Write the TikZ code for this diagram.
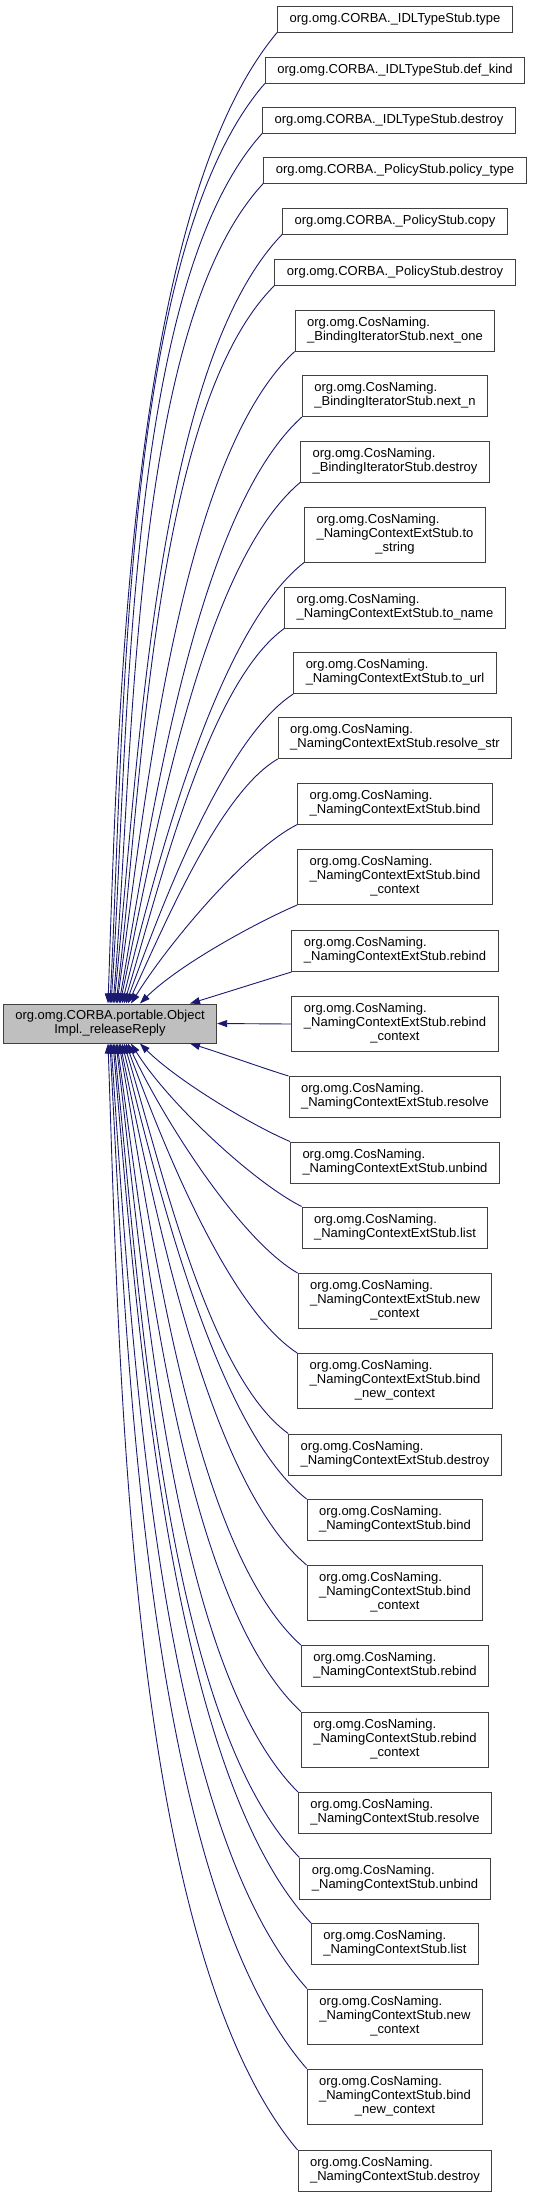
\documentclass[tikz,border=0pt]{standalone}
\usepackage{fontspec}
\setmainfont{Liberation Sans}
\usetikzlibrary{arrows.meta}

\definecolor{edgeblue}{HTML}{191970}
\definecolor{focusgray}{HTML}{BFBFBF}
\newcommand{\callfont}{\fontsize{6.5}{7}\selectfont}
\newcommand{\calltwo}[2]{\begin{tabular}{@{}l@{}}#1\\#2\end{tabular}}
\newcommand{\callthree}[3]{\begin{tabular}{@{}l@{}}#1\\#2\\\multicolumn{1}{@{}c@{}}{#3}\end{tabular}}

\begin{document}
\begin{tikzpicture}[x=0.5pt, y=0.5pt,
  fnbox/.style={draw=black!75, line width=0.5pt, fill=white, inner xsep=6pt, inner ysep=0pt, font=\callfont},
  onebox/.style={fnbox, minimum height=13pt},
  twobox/.style={fnbox, minimum height=20.5pt},
  threebox/.style={fnbox, minimum height=27.5pt},
  focus/.style={fnbox, fill=focusgray, minimum height=19.5pt, align=center},
  call/.style={-{Triangle[length=5pt,width=3.5pt]}, draw=edgeblue, line width=0.45pt, out looseness=0.6, in looseness=0.75}]
  \useasboundingbox (0,0) rectangle (532,-2197);

  % Left: the called function
  \node[focus] (release) at (110,-1023.5) {org.omg.CORBA.portable.Object\\Impl.\_releaseReply};

  % Right: the callers, CORBA stubs
  \node[onebox] (idlType) at (395,-19) {org.omg.CORBA.\_IDLTypeStub.type};
  \node[onebox] (idlDefKind) at (395,-70) {org.omg.CORBA.\_IDLTypeStub.def\_kind};
  \node[onebox] (idlDestroy) at (389,-120) {org.omg.CORBA.\_IDLTypeStub.destroy};
  \node[onebox] (polType) at (395,-170) {org.omg.CORBA.\_PolicyStub.policy\_type};
  \node[onebox] (polCopy) at (395,-221) {org.omg.CORBA.\_PolicyStub.copy};
  \node[onebox] (polDestroy) at (395,-272) {org.omg.CORBA.\_PolicyStub.destroy};

  % Right: CosNaming binding iterator
  \node[twobox] (biNextOne) at (395,-330.5) {\calltwo{org.omg.CosNaming.}{\_BindingIteratorStub.next\_one}};
  \node[twobox] (biNextN) at (395,-396) {\calltwo{org.omg.CosNaming.}{\_BindingIteratorStub.next\_n}};
  \node[twobox] (biDestroy) at (395,-461.5) {\calltwo{org.omg.CosNaming.}{\_BindingIteratorStub.destroy}};

  % Right: CosNaming naming context ext
  \node[threebox] (extToString) at (395,-534.5) {\callthree{org.omg.CosNaming.}{\_NamingContextExtStub.to}{\_string}};
  \node[twobox] (extToName) at (395,-607.5) {\calltwo{org.omg.CosNaming.}{\_NamingContextExtStub.to\_name}};
  \node[twobox] (extToUrl) at (395,-673) {\calltwo{org.omg.CosNaming.}{\_NamingContextExtStub.to\_url}};
  \node[twobox] (extResolveStr) at (395,-738) {\calltwo{org.omg.CosNaming.}{\_NamingContextExtStub.resolve\_str}};
  \node[twobox] (extBind) at (395,-803.5) {\calltwo{org.omg.CosNaming.}{\_NamingContextExtStub.bind}};
  \node[threebox] (extBindCtx) at (395,-877) {\callthree{org.omg.CosNaming.}{\_NamingContextExtStub.bind}{\_context}};
  \node[twobox] (extRebind) at (395,-951) {\calltwo{org.omg.CosNaming.}{\_NamingContextExtStub.rebind}};
  \node[threebox] (extRebindCtx) at (395,-1024) {\callthree{org.omg.CosNaming.}{\_NamingContextExtStub.rebind}{\_context}};
  \node[twobox] (extResolve) at (395,-1097) {\calltwo{org.omg.CosNaming.}{\_NamingContextExtStub.resolve}};
  \node[twobox] (extUnbind) at (395,-1162.5) {\calltwo{org.omg.CosNaming.}{\_NamingContextExtStub.unbind}};
  \node[twobox] (extList) at (395,-1227.5) {\calltwo{org.omg.CosNaming.}{\_NamingContextExtStub.list}};
  \node[threebox] (extNewCtx) at (395,-1301) {\callthree{org.omg.CosNaming.}{\_NamingContextExtStub.new}{\_context}};
  \node[threebox] (extBindNewCtx) at (395,-1381) {\callthree{org.omg.CosNaming.}{\_NamingContextExtStub.bind}{\_new\_context}};
  \node[twobox] (extDestroy) at (395,-1454.5) {\calltwo{org.omg.CosNaming.}{\_NamingContextExtStub.destroy}};

  % Right: CosNaming naming context
  \node[twobox] (ncBind) at (395,-1520) {\calltwo{org.omg.CosNaming.}{\_NamingContextStub.bind}};
  \node[threebox] (ncBindCtx) at (395,-1593) {\callthree{org.omg.CosNaming.}{\_NamingContextStub.bind}{\_context}};
  \node[twobox] (ncRebind) at (395,-1666) {\calltwo{org.omg.CosNaming.}{\_NamingContextStub.rebind}};
  \node[threebox] (ncRebindCtx) at (395,-1739.5) {\callthree{org.omg.CosNaming.}{\_NamingContextStub.rebind}{\_context}};
  \node[twobox] (ncResolve) at (395,-1813) {\calltwo{org.omg.CosNaming.}{\_NamingContextStub.resolve}};
  \node[twobox] (ncUnbind) at (395,-1878.5) {\calltwo{org.omg.CosNaming.}{\_NamingContextStub.unbind}};
  \node[twobox] (ncList) at (395,-1944) {\calltwo{org.omg.CosNaming.}{\_NamingContextStub.list}};
  \node[threebox] (ncNewCtx) at (395,-2016.5) {\callthree{org.omg.CosNaming.}{\_NamingContextStub.new}{\_context}};
  \node[threebox] (ncBindNewCtx) at (395,-2096.5) {\callthree{org.omg.CosNaming.}{\_NamingContextStub.bind}{\_new\_context}};
  \node[twobox] (ncDestroy) at (395,-2171) {\calltwo{org.omg.CosNaming.}{\_NamingContextStub.destroy}};

  % Calls from above
  \draw[call] (idlType.south west) to[out=230, in=88] ([xshift=-1pt]release.north);
  \draw[call] (idlDefKind.south west) to[out=229, in=87] ([xshift=0pt]release.north);
  \draw[call] (idlDestroy.south west) to[out=228, in=86] ([xshift=0.5pt]release.north);
  \draw[call] (polType.south west) to[out=227, in=85] ([xshift=1.5pt]release.north);
  \draw[call] (polCopy.south west) to[out=226, in=84] ([xshift=2pt]release.north);
  \draw[call] (polDestroy.south west) to[out=225, in=83] ([xshift=3pt]release.north);
  \draw[call] (biNextOne.south west) to[out=223, in=82] ([xshift=3.5pt]release.north);
  \draw[call] (biNextN.south west) to[out=222, in=80] ([xshift=4.5pt]release.north);
  \draw[call] (biDestroy.south west) to[out=220, in=78] ([xshift=5pt]release.north);
  \draw[call] (extToString.south west) to[out=218, in=76] ([xshift=6pt]release.north);
  \draw[call] (extToName.south west) to[out=216, in=73] ([xshift=7pt]release.north);
  \draw[call] (extToUrl.south west) to[out=213, in=70] ([xshift=8pt]release.north);
  \draw[call] (extResolveStr.south west) to[out=210, in=65] ([xshift=9pt]release.north);
  \draw[call] (extBind.south west) to[out=207, in=58] ([xshift=10.5pt]release.north);
  \draw[call] (extBindCtx.south west) to[out=203, in=45] ([xshift=15pt]release.north);
  \draw[call] (extRebind.south west) to[out=197, in=17] ([xshift=40pt]release.north);

  % Straight call
  \draw[call] (extRebindCtx.west) -- (release.east);

  % Calls from below
  \draw[call] (extResolve.north west) to[out=163, in=343] ([xshift=40pt]release.south);
  \draw[call] (extUnbind.north west) to[out=157, in=315] ([xshift=15pt]release.south);
  \draw[call] (extList.north west) to[out=153, in=302] ([xshift=10.5pt]release.south);
  \draw[call] (extNewCtx.north west) to[out=150, in=295] ([xshift=9pt]release.south);
  \draw[call] (extBindNewCtx.north west) to[out=147, in=290] ([xshift=8pt]release.south);
  \draw[call] (extDestroy.north west) to[out=144, in=287] ([xshift=7pt]release.south);
  \draw[call] (ncBind.north west) to[out=142, in=284] ([xshift=6pt]release.south);
  \draw[call] (ncBindCtx.north west) to[out=140, in=282] ([xshift=5pt]release.south);
  \draw[call] (ncRebind.north west) to[out=138, in=280] ([xshift=4.5pt]release.south);
  \draw[call] (ncRebindCtx.north west) to[out=137, in=278] ([xshift=3.5pt]release.south);
  \draw[call] (ncResolve.north west) to[out=135, in=277] ([xshift=3pt]release.south);
  \draw[call] (ncUnbind.north west) to[out=134, in=276] ([xshift=2pt]release.south);
  \draw[call] (ncList.north west) to[out=133, in=275] ([xshift=1.5pt]release.south);
  \draw[call] (ncNewCtx.north west) to[out=132, in=274] ([xshift=0.5pt]release.south);
  \draw[call] (ncBindNewCtx.north west) to[out=131, in=273] ([xshift=0pt]release.south);
  \draw[call] (ncDestroy.north west) to[out=130, in=272] ([xshift=-1pt]release.south);
\end{tikzpicture}
\end{document}
